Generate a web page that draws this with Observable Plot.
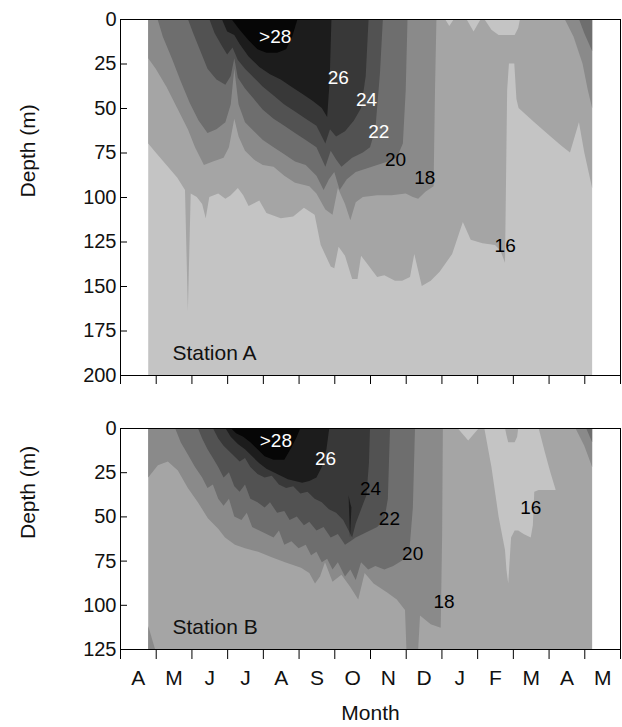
<!DOCTYPE html>
<html><head><meta charset="utf-8">
<script src="https://cdn.jsdelivr.net/npm/d3@7"></script>
<script src="https://cdn.jsdelivr.net/npm/@observablehq/plot@0.6"></script>
<style>
body{margin:0;background:#fff;}
#chart{width:622px;}
#chart svg{display:block;background:#fff;overflow:visible;}
</style></head><body><div id="chart"></div>
<script>
// ---------- axis / category data ----------
const monthLabels = ["A","M","J","J","A","S","O","N","D","J","F","M","A","M"]; // Apr .. May (14 months)
const xTitle = "Month";
const yTitle = "Depth (m)";
const depthTicksA = [0,25,50,75,100,125,150,175,200];
const depthTicksB = [0,25,50,75,100,125];
// temperature classes: <16, 16-18, 18-20, 20-22, 22-24, 24-26, 26-28, >28
const classLevels = [14,16,18,20,22,24,26,28];

// ---------- Station A (month index from 1 April, depth m) ----------
const spanA = [0.79, 13.22];
const isoA16 = [[0.79,70],[1.0,75],[1.3,82],[1.6,89],[1.82,96],[1.9,164],[1.98,98],[2.15,100],[2.3,104],[2.4,112],[2.5,100],[2.75,98],[2.95,101],[3.1,99],[3.3,95],[3.45,99],[3.6,105],[3.9,102],[4.1,109],[4.5,112],[4.85,111],[5.15,106],[5.45,110],[5.62,127],[5.9,139],[6.0,140],[6.12,128],[6.3,133],[6.5,146],[6.65,146],[6.75,133],[6.9,137],[7.2,145],[7.4,144],[7.7,147],[7.9,147],[8.12,145],[8.24,132],[8.45,150],[8.7,147],[8.95,142],[9.3,132],[9.6,114],[9.82,124],[10.15,126],[10.5,127],[10.65,130],[10.78,137],[10.84,40],[10.89,25],[11.04,25],[11.1,45],[11.16,50],[11.6,58],[12.0,65],[12.35,71],[12.6,75],[12.85,58],[13.0,75],[13.22,95]];
const isoA18 = [[0.79,22],[1.0,28],[1.3,38],[1.6,50],[1.9,62],[2.1,72],[2.35,82],[2.6,80],[2.9,78],[3.05,72],[3.2,56],[3.32,66],[3.5,74],[3.75,79],[4.0,82],[4.3,83],[4.6,88],[4.9,92],[5.3,94],[5.5,98],[5.75,107],[5.95,110],[6.1,95],[6.3,104],[6.45,113],[6.6,103],[6.8,100],[7.2,99],[7.6,99],[8.0,98],[8.2,100],[8.35,101],[8.55,97],[8.78,94],[8.82,40],[8.86,0],[12.45,0],[12.7,10],[12.95,25],[13.1,40],[13.22,50]];
const isoA20 = [[1.05,0],[1.2,10],[1.45,22],[1.7,35],[1.95,47],[2.2,57],[2.45,64],[2.7,62],[2.95,58],[3.1,48],[3.2,28],[3.32,48],[3.5,58],[3.75,63],[4.0,68],[4.3,72],[4.6,76],[4.9,80],[5.2,82],[5.5,88],[5.7,96],[5.85,90],[6.0,86],[6.15,96],[6.35,90],[6.6,86],[6.9,84],[7.2,82],[7.5,80],[7.75,78],[7.92,70],[8.0,40],[8.05,0],[12.85,0],[13.0,8],[13.22,18]];
const isoA22 = [[1.9,0],[2.05,8],[2.25,18],[2.45,28],[2.7,34],[2.95,37],[3.1,32],[3.2,22],[3.3,33],[3.5,39],[3.75,45],[4.0,51],[4.3,56],[4.6,60],[4.9,64],[5.2,68],[5.5,72],[5.75,83],[5.9,74],[6.05,79],[6.2,83],[6.5,78],[6.8,75],[7.0,72],[7.15,62],[7.28,30],[7.36,0]];
const isoA24 = [[2.5,0],[2.65,8],[2.85,15],[3.0,20],[3.15,16],[3.3,23],[3.5,28],[3.75,33],[4.0,38],[4.3,43],[4.6,48],[4.9,52],[5.2,56],[5.5,60],[5.75,70],[5.88,62],[6.05,66],[6.3,63],[6.55,57],[6.75,50],[6.88,32],[6.96,0]];
const isoA26 = [[2.85,0],[3.0,7],[3.2,9],[3.35,14],[3.6,21],[3.9,27],[4.2,31],[4.5,34],[4.8,38],[5.1,42],[5.4,46],[5.65,50],[5.8,55],[5.87,35],[5.92,0]];
const isoA28 = [[3.12,0],[3.35,6],[3.6,12],[3.85,17],[4.1,19],[4.4,19],[4.65,17],[4.82,10],[4.97,0]];
// patches [month, top depth, bottom depth]
const coldCapA = [[9.1,0,0],[9.22,0,4],[9.35,0,0],[9.7,0,0],[9.9,0,7],[10.1,0,0],[10.2,0,0],[10.4,0,6],[10.6,0,9],[10.85,0,9],[11.05,0,9],[11.15,0,5],[11.2,0,0]];
const labelsA = [
  {text:">28", month:4.33, depth:10},
  {text:"26", month:6.1, depth:33},
  {text:"24", month:6.89, depth:45},
  {text:"22", month:7.23, depth:63},
  {text:"20", month:7.7, depth:79},
  {text:"18", month:8.52, depth:89},
  {text:"16", month:10.77, depth:127}
];

// ---------- Station B ----------
const spanB = [0.79, 13.22];
const isoB18 = [[0.79,28],[1.06,21],[1.34,19],[1.62,24],[1.9,34],[2.18,42],[2.46,51],[2.75,57],[2.94,62],[3.22,66],[3.5,68],[3.87,70],[4.23,73],[4.62,76],[5.07,79],[5.3,82],[5.46,88],[5.6,84],[5.74,76],[5.95,87],[6.2,83],[6.45,90],[6.67,97],[6.85,82],[7.1,88],[7.48,93],[7.75,97],[7.98,103],[8.02,125],[8.35,125],[8.4,106],[8.7,111],[8.98,113],[9.02,60],[9.04,0],[12.75,0],[13.0,10],[13.22,22]];
const isoB20 = [[1.54,0],[1.7,8],[1.9,15],[2.1,22],[2.3,28],[2.45,34],[2.6,32],[2.75,40],[2.9,44],[3.05,40],[3.2,50],[3.4,52],[3.55,48],[3.7,56],[3.9,58],[4.1,60],[4.3,62],[4.45,58],[4.6,66],[4.8,64],[5.0,68],[5.2,66],[5.35,72],[5.5,70],[5.65,76],[5.8,74],[5.95,80],[6.1,76],[6.3,84],[6.45,80],[6.6,86],[6.75,76],[6.95,80],[7.15,78],[7.4,80],[7.65,78],[7.9,75],[8.1,70],[8.2,45],[8.26,0],[13.05,0],[13.22,8]];
const isoB22 = [[2.18,0],[2.3,6],[2.45,12],[2.6,17],[2.75,22],[2.9,28],[3.05,25],[3.2,33],[3.35,36],[3.5,32],[3.65,40],[3.85,42],[4.05,45],[4.2,42],[4.4,48],[4.6,47],[4.75,52],[4.95,50],[5.15,55],[5.3,53],[5.5,58],[5.7,56],[5.9,62],[6.1,60],[6.3,66],[6.45,64],[6.6,62],[6.8,60],[7.0,58],[7.2,56],[7.4,52],[7.5,40],[7.56,0]];
const isoB24 = [[2.6,0],[2.75,6],[2.9,10],[3.05,13],[3.2,16],[3.35,19],[3.5,17],[3.65,22],[3.85,26],[4.05,28],[4.25,27],[4.45,32],[4.65,34],[4.85,33],[5.05,37],[5.25,36],[5.45,40],[5.65,42],[5.85,46],[6.05,48],[6.25,52],[6.4,58],[6.5,62],[6.6,54],[6.75,46],[6.9,38],[6.97,20],[7.0,0]];
const isoB26 = [[2.95,0],[3.1,5],[3.3,9],[3.5,12],[3.7,16],[3.9,20],[4.1,23],[4.3,25],[4.5,27],[4.7,29],[4.9,30],[5.1,31],[5.3,30],[5.5,28],[5.65,22],[5.78,12],[5.86,0]];
const isoB28 = [[3.1,0],[3.25,3],[3.45,5],[3.65,8],[3.85,12],[4.05,16],[4.3,18],[4.6,18],[4.8,11],[4.95,5],[5.05,0]];
const coldB = [[9.45,0,0],[9.75,0,7],[10.05,0,0],[10.2,0,0],[10.4,0,22],[10.6,0,50],[10.78,0,69],[10.82,4,80],[10.87,8,88],[10.95,8,62],[11.05,8,58],[11.12,5,58],[11.15,0,58],[11.3,0,60],[11.5,0,62],[11.56,0,55],[11.6,0,36],[11.72,0,35],[11.9,14,35],[12.05,25,35],[12.2,35,35]];
const warmDeepB = [[0.79,112,125],[0.98,125,125]];
const streakB = [[6.4,38,38],[6.44,42,62],[6.48,45,45]];
const labelsB = [
  {text:">28", month:4.35, depth:7},
  {text:"26", month:5.74, depth:17},
  {text:"24", month:7.0, depth:34},
  {text:"22", month:7.53, depth:51},
  {text:"20", month:8.18, depth:71},
  {text:"18", month:9.06, depth:98},
  {text:"16", month:11.49, depth:45}
];

// ---------- styling ----------
const grays = ["#c4c4c4","#a5a5a5","#8a8a8a","#6e6e6e","#525252","#383838","#1c1c1c","#060606"];
const font = "'Liberation Sans', Arial, Helvetica, sans-serif";
const cls = level => classLevels.indexOf(level);
const monthEdges = d3.range(monthLabels.length + 1);
const monthCenters = monthLabels.map((_, i) => i + 0.5);

function panel(o) {
  const maxDepth = d3.max(o.depthTicks);
  const marks = [];
  marks.push(Plot.areaY(o.span, {x: d => d, y1: 0, y2: maxDepth, fill: grays[cls(o.baseLevel)]}));
  for (const [level, pts] of o.isos) {
    marks.push(Plot.areaY(pts, {x: d => d[0], y1: 0, y2: d => d[1], fill: grays[cls(level)], curve: "linear"}));
  }
  for (const [level, pts] of o.patches) {
    marks.push(Plot.areaY(pts, {x: d => d[0], y1: d => d[1], y2: d => d[2], fill: grays[cls(level)], curve: "linear"}));
  }
  marks.push(Plot.text(o.labels, {
    x: "month", y: "depth", text: "text",
    fill: d => (+d.text.replace(">", "") >= o.whiteFrom ? "white" : "black"),
    fontSize: 19, fontFamily: font
  }));
  marks.push(Plot.text([o.name], {frameAnchor: "bottom-left", dx: 52, dy: -22, textAnchor: "start", lineAnchor: "middle", fontSize: 21, fontFamily: font, fill: "#111"}));
  marks.push(Plot.text([yTitle], {frameAnchor: "left", dx: -92, rotate: -90, fontSize: 21, fontFamily: font, fill: "#111"}));
  // y axis: labels outside, ticks pointing inward
  marks.push(Plot.axisY(o.depthTicks, {tickSize: 0, tickPadding: 4, fontSize: 20, fontFamily: font, label: null, color: "#111"}));
  marks.push(Plot.tickY(o.depthTicks, {y: d => d, stroke: "black", insetRight: 622 - 122 - 7}));
  // x axis ticks at month boundaries
  marks.push(Plot.axisX(monthEdges, {tickSize: o.xTickSize, tickFormat: () => "", label: null, stroke: "black"}));
  if (o.showMonths) {
    marks.push(Plot.axisX(monthCenters, {tickSize: 0, tickPadding: 21, tickFormat: d => monthLabels[Math.floor(d)], fontSize: 21, fontFamily: font, label: null, color: "#111"}));
    marks.push(Plot.text([xTitle], {frameAnchor: "bottom", dy: 64, lineAnchor: "middle", fontSize: 21, fontFamily: font, fill: "#111"}));
  }
  marks.push(Plot.frame({stroke: "black", strokeWidth: 1}));
  return Plot.plot({
    width: 622, height: o.height,
    marginLeft: 120, marginRight: 2, marginTop: o.marginTop, marginBottom: o.marginBottom,
    style: {fontFamily: font, background: "white"},
    x: {domain: [0, monthLabels.length], axis: null},
    y: {domain: [0, maxDepth], reverse: true, axis: null},
    marks
  });
}

const chart = document.getElementById("chart");
chart.append(panel({
  name: "Station A", span: spanA, depthTicks: depthTicksA, baseLevel: 14,
  isos: [[16, isoA16],[18, isoA18],[20, isoA20],[22, isoA22],[24, isoA24],[26, isoA26],[28, isoA28]],
  patches: [[14, coldCapA]],
  labels: labelsA, whiteFrom: 22,
  height: 396, marginTop: 19, marginBottom: 21, xTickSize: 9, showMonths: false
}));
chart.append(panel({
  name: "Station B", span: spanB, depthTicks: depthTicksB, baseLevel: 16,
  isos: [[18, isoB18],[20, isoB20],[22, isoB22],[24, isoB24],[26, isoB26],[28, isoB28]],
  patches: [[14, coldB],[18, warmDeepB],[26, streakB]],
  labels: labelsB, whiteFrom: 26,
  height: 331, marginTop: 32, marginBottom: 78, xTickSize: 10, showMonths: true
}));
</script>
</body></html>
